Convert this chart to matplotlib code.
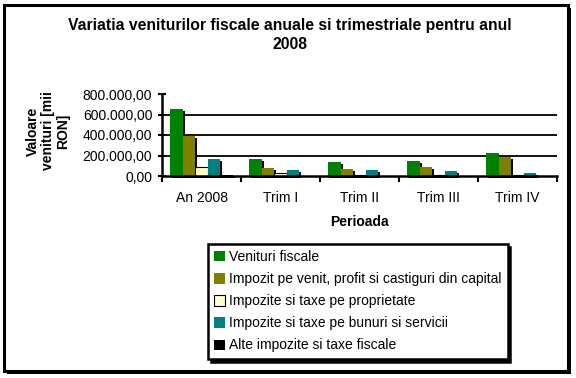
import numpy as np
import matplotlib.pyplot as plt
from matplotlib.patches import Rectangle
from matplotlib.ticker import FuncFormatter
from matplotlib.transforms import offset_copy

plt.rcParams['font.family'] = ['Liberation Sans', 'DejaVu Sans']

perioade = ["An 2008", "Trim I", "Trim II", "Trim III", "Trim IV"]
serii = ["Venituri fiscale",
         "Impozit pe venit, profit si castiguri din capital",
         "Impozite si taxe pe proprietate",
         "Impozite si taxe pe bunuri si servicii",
         "Alte impozite si taxe fiscale"]
venituri_fiscale = [652000, 167000, 137000, 147000, 227000]
impozit_venit = [395000, 77000, 67000, 87000, 187000]
impozite_proprietate = [84000, 33000, 8000, 6000, 5000]
impozite_bunuri = [167000, 57000, 57000, 47000, 27000]
alte_impozite = [10000, 3000, 3000, 3000, 3000]
culori = ["#008000", "#808000", "#FFFFCC", "#008080", "#000000"]
yticks = [0, 200000, 400000, 600000, 800000]

valori = [venituri_fiscale, impozit_venit, impozite_proprietate, impozite_bunuri, alte_impozite]

W, H = 576, 378
fig = plt.figure(figsize=(W / 100, H / 100), dpi=100)
fig.patch.set_facecolor("white")

# outer chart frame with shadow
fig.patches.append(Rectangle((7 / W, 1 - 374 / H), 564 / W, 366 / H, transform=fig.transFigure,
                             facecolor="black", edgecolor="none", zorder=-2))
fig.patches.append(Rectangle((4 / W, 1 - 371 / H), 564 / W, 366 / H, transform=fig.transFigure,
                             facecolor="white", edgecolor="black", linewidth=2.2, zorder=-1))

ax = fig.add_axes([162 / W, 1 - 176 / H, 395 / W, 82 / H])
ax.set_facecolor("none")
ax.set_zorder(1)

x = np.arange(len(perioade))
w = 0.16
shadow_tr = offset_copy(ax.transData, fig=fig, x=2, y=-2, units="dots")
for i, (nume, val, c) in enumerate(zip(serii, valori, culori)):
    xi = x - 0.4 + w * (i + 0.5)
    ax.bar(xi, val, w, color="black", transform=shadow_tr, zorder=2, clip_on=False)
    ec = "black" if c == "#FFFFCC" else "none"
    ax.bar(xi, val, w, color=c, edgecolor=ec, linewidth=0.8, label=nume, zorder=3)

for t in yticks[1:-1]:
    ax.axhline(t, color="black", linewidth=1.3, zorder=1)

ax.set_xlim(-0.5, len(perioade) - 0.5)
ax.set_ylim(0, 800000)
ax.set_yticks(yticks)
ax.yaxis.set_major_formatter(FuncFormatter(
    lambda v, p: f"{v:,.2f}".replace(",", " ").replace(".", ",").replace(" ", ".")))
ax.set_xticks(x)
ax.set_xticklabels(perioade)
ax.set_xticks(np.arange(len(perioade) + 1) - 0.5, minor=True)
ax.tick_params(axis="x", which="major", length=0, pad=11, labelsize=10)
ax.tick_params(axis="x", which="minor", length=4, width=1.5, direction="out")
ax.tick_params(axis="y", length=6, width=1.5, direction="inout", pad=4, labelsize=10)
for s in ["top", "right"]:
    ax.spines[s].set_visible(False)
for s in ["left", "bottom"]:
    ax.spines[s].set_linewidth(1.8)
    ax.spines[s].set_zorder(4)

ax.set_xlabel("Perioada", fontweight="bold", fontsize=10, labelpad=7)
fig.text(48 / W, 1 - 131 / H, "Valoare\nvenituri [mii\nRON]", rotation=90, ha="center", va="center",
         fontweight="bold", fontsize=10, linespacing=1.1)
fig.text(290 / W, 1 - 35 / H, "Variatia veniturilor fiscale anuale si trimestriale pentru anul\n2008",
         ha="center", va="center", fontweight="bold", fontsize=11.3, linespacing=1.3)

leg = fig.legend(loc="upper left", bbox_to_anchor=(208 / W, 1 - 244 / H), fontsize=10,
                 handlelength=0.75, handleheight=0.75, handletextpad=0.3, labelspacing=0.58,
                 borderpad=0.45, borderaxespad=0, fancybox=False, framealpha=1,
                 shadow={"color": "black", "alpha": 1})
leg.get_frame().set_edgecolor("black")
leg.get_frame().set_linewidth(1.8)
leg.set_zorder(5)

fig.savefig("out.png", dpi=100)
